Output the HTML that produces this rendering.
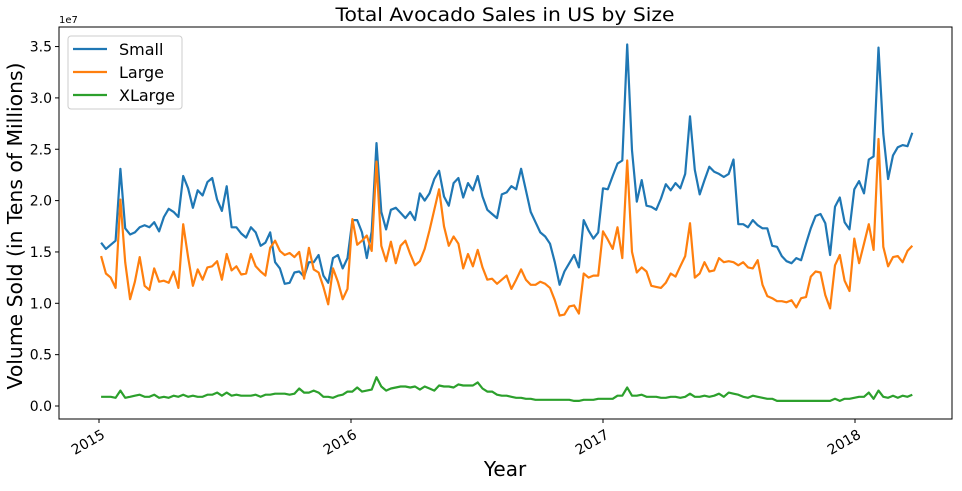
<!DOCTYPE html>
<html><head><meta charset="utf-8"><style>
body{margin:0;background:#fff;}
svg{font-family:"DejaVu Sans","Liberation Sans",sans-serif;}
</style></head><body>
<svg id="chart" width="962" height="486" viewBox="0 0 962 486"></svg>
<script>
const startDate = "2015-01-04";
const yTickValues = [0,0.5,1.0,1.5,2.0,2.5,3.0,3.5];
const yTickLabels = ["0.0","0.5","1.0","1.5","2.0","2.5","3.0","3.5"];
const xTickYears = [2015,2016,2017,2018];
const xTickLabels = ["2015","2016","2017","2018"];
const seriesNames = ["Small","Large","XLarge"];
const smallValues = [1.59,1.53,1.57,1.61,2.31,1.73,1.67,1.69,1.74,1.76,1.74,1.79,1.70,1.84,1.92,1.89,1.84,2.24,2.12,1.93,2.10,2.05,2.18,2.22,2.01,1.90,2.14,1.74,1.74,1.68,1.64,1.74,1.69,1.56,1.59,1.69,1.40,1.34,1.19,1.20,1.30,1.31,1.26,1.40,1.40,1.47,1.27,1.20,1.44,1.47,1.34,1.44,1.81,1.81,1.69,1.44,1.70,2.56,1.89,1.72,1.91,1.93,1.88,1.83,1.89,1.81,2.07,2.00,2.07,2.21,2.29,2.04,1.95,2.17,2.22,2.03,2.17,2.10,2.24,2.04,1.91,1.87,1.83,2.06,2.08,2.14,2.11,2.31,2.10,1.89,1.79,1.69,1.65,1.58,1.40,1.18,1.31,1.39,1.47,1.35,1.81,1.71,1.63,1.69,2.12,2.11,2.24,2.36,2.39,3.52,2.49,1.99,2.20,1.95,1.94,1.91,2.02,2.16,2.10,2.17,2.12,2.26,2.82,2.30,2.06,2.20,2.33,2.28,2.26,2.23,2.26,2.40,1.77,1.77,1.74,1.81,1.76,1.73,1.73,1.56,1.55,1.46,1.41,1.39,1.44,1.42,1.58,1.73,1.85,1.87,1.78,1.47,1.94,2.03,1.79,1.72,2.11,2.19,2.07,2.40,2.43,3.49,2.65,2.21,2.44,2.52,2.54,2.53,2.66];
const largeValues = [1.46,1.29,1.25,1.15,2.01,1.40,1.04,1.21,1.45,1.17,1.13,1.34,1.21,1.22,1.20,1.31,1.15,1.77,1.45,1.17,1.33,1.23,1.35,1.36,1.41,1.23,1.48,1.32,1.36,1.28,1.29,1.48,1.36,1.31,1.27,1.54,1.61,1.51,1.47,1.49,1.45,1.50,1.24,1.54,1.33,1.30,1.16,0.99,1.34,1.21,1.04,1.14,1.82,1.57,1.61,1.66,1.51,2.38,1.56,1.41,1.60,1.39,1.56,1.61,1.48,1.37,1.41,1.53,1.71,1.91,2.11,1.75,1.56,1.65,1.58,1.34,1.48,1.36,1.52,1.35,1.23,1.24,1.19,1.23,1.27,1.14,1.23,1.33,1.23,1.18,1.18,1.21,1.19,1.15,1.03,0.88,0.89,0.97,0.98,0.90,1.29,1.25,1.27,1.27,1.70,1.62,1.53,1.74,1.44,2.39,1.50,1.30,1.35,1.31,1.17,1.16,1.15,1.20,1.29,1.26,1.36,1.46,1.78,1.25,1.29,1.40,1.31,1.32,1.44,1.40,1.41,1.40,1.37,1.40,1.35,1.34,1.42,1.18,1.07,1.05,1.02,1.02,1.01,1.03,0.96,1.05,1.06,1.26,1.31,1.30,1.08,0.95,1.37,1.47,1.22,1.12,1.63,1.39,1.58,1.77,1.52,2.60,1.55,1.36,1.45,1.46,1.40,1.51,1.56];
const xlargeValues = [0.09,0.09,0.09,0.08,0.15,0.08,0.09,0.10,0.11,0.09,0.09,0.11,0.08,0.09,0.08,0.10,0.09,0.11,0.09,0.10,0.09,0.09,0.11,0.11,0.13,0.10,0.13,0.10,0.11,0.10,0.10,0.10,0.11,0.09,0.11,0.11,0.12,0.12,0.12,0.11,0.12,0.17,0.13,0.13,0.15,0.13,0.09,0.09,0.08,0.10,0.11,0.14,0.14,0.18,0.14,0.15,0.16,0.28,0.19,0.15,0.17,0.18,0.19,0.19,0.18,0.19,0.16,0.19,0.17,0.15,0.20,0.19,0.19,0.18,0.21,0.20,0.20,0.20,0.23,0.17,0.14,0.14,0.11,0.10,0.10,0.09,0.08,0.08,0.07,0.07,0.06,0.06,0.06,0.06,0.06,0.06,0.06,0.06,0.05,0.05,0.06,0.06,0.06,0.07,0.07,0.07,0.07,0.10,0.10,0.18,0.10,0.10,0.11,0.09,0.09,0.09,0.08,0.08,0.09,0.09,0.08,0.09,0.12,0.09,0.09,0.10,0.09,0.10,0.12,0.09,0.13,0.12,0.11,0.09,0.08,0.10,0.09,0.08,0.07,0.07,0.05,0.05,0.05,0.05,0.05,0.05,0.05,0.05,0.05,0.05,0.05,0.05,0.07,0.05,0.07,0.07,0.08,0.09,0.09,0.13,0.07,0.15,0.09,0.08,0.10,0.08,0.10,0.09,0.11];

const NS = "http://www.w3.org/2000/svg";
const svg = document.getElementById('chart');
const L=59,T=27,R=952,B=419;
const Y0=406, PX_PER_UNIT=102.7;
const X2015=99, PX_PER_YEAR=252;
function yScale(v){return Y0 - v*PX_PER_UNIT;}
function xScaleDate(d){
  const y=d.getUTCFullYear();
  const s=Date.UTC(y,0,1), e=Date.UTC(y+1,0,1);
  return X2015 + (y-2015 + (d.getTime()-s)/(e-s))*PX_PER_YEAR;
}
function xScaleIndex(i){
  const d=new Date(startDate+"T00:00:00Z");
  d.setUTCDate(d.getUTCDate()+7*i);
  return xScaleDate(d);
}
function mk(tag,attrs,parent){const e=document.createElementNS(NS,tag);for(const k in attrs)e.setAttribute(k,attrs[k]);(parent||svg).appendChild(e);return e;}

const title=mk('text',{x:505,y:21,'text-anchor':'middle','font-size':19,fill:'#000',textLength:339,lengthAdjust:'spacingAndGlyphs'});
title.textContent="Total Avocado Sales in US by Size";



const frame=mk('rect',{x:L,y:T,width:R-L,height:B-T,fill:'none',stroke:'#000','stroke-width':1});



yTickValues.forEach((v,k)=>{
  const y=yScale(v);
  const t=mk('line',{x1:L-4,x2:L,y1:y,y2:y,stroke:'#000'});
  
  
  const lb=mk('text',{x:L-7,y:y+5,'text-anchor':'end','font-size':14,fill:'#000'});
  lb.textContent=yTickLabels[k];
  
  
});
const ex=mk('text',{x:59,y:23,'font-size':10,fill:'#000'});
ex.textContent="1e7";



xTickYears.forEach((yr,k)=>{
  const x=xScaleDate(new Date(Date.UTC(yr,0,1)));
  const t=mk('line',{x1:x,x2:x,y1:B,y2:B+4,stroke:'#000'});
  
  
  const lb=mk('text',{x:x+2,y:B+10,'text-anchor':'end','font-size':14,fill:'#000',transform:`rotate(-30 ${x+2} ${B+10})`,'dominant-baseline':'hanging'});
  lb.textContent=xTickLabels[k];
  
  
});

const xt=mk('text',{x:505,y:476,'text-anchor':'middle','font-size':20,fill:'#000'});
xt.textContent="Year";


const yt=mk('text',{x:22,y:226,'text-anchor':'middle','font-size':20,fill:'#000',transform:'rotate(-90 22 226)',textLength:327,lengthAdjust:'spacingAndGlyphs'});
yt.textContent="Volume Sold (in Tens of Millions)";



const colors=['#1f77b4','#ff7f0e','#2ca02c'];
[smallValues,largeValues,xlargeValues].forEach((vals,s)=>{
  const pts=vals.map((v,i)=>xScaleIndex(i).toFixed(1)+','+yScale(v).toFixed(1)).join(' ');
  const pl=mk('polyline',{points:pts,fill:'none',stroke:colors[s],'stroke-width':2.2,'stroke-linejoin':'round'});
  
  
});

const lg=mk('g',{});


mk('rect',{x:68,y:36,width:114,height:73,rx:3,fill:'#fff','fill-opacity':0.8,stroke:'#ccc'},lg);
seriesNames.forEach((n,s)=>{
  const y=49+s*23;
  const g=mk('g',{},lg);
  
  
  mk('line',{x1:73,x2:107,y1:y,y2:y,stroke:colors[s],'stroke-width':2.2},g);
  const tx=mk('text',{x:119,y:y+6,'font-size':16,fill:'#000'},g);
  tx.textContent=n;
});
</script>
</body></html>
